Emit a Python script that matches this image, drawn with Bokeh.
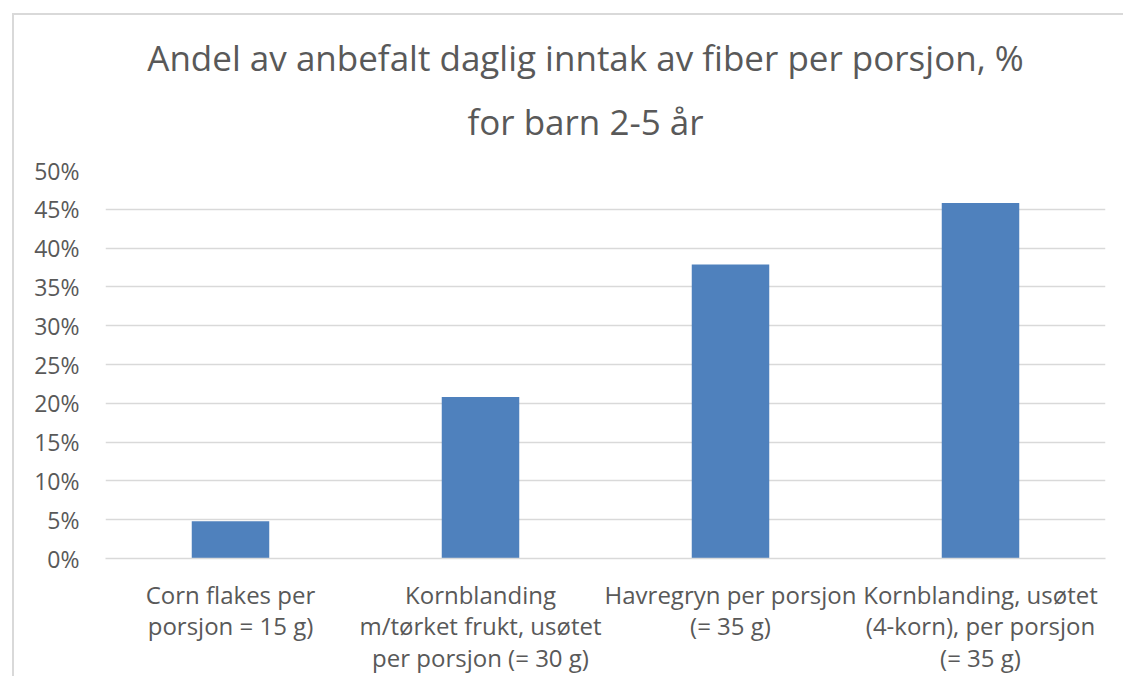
from bokeh.plotting import figure
from bokeh.models import FactorRange, Range1d, FixedTicker, PrintfTickFormatter, Title, InlineStyleSheet
from bokeh.embed import file_html
from bokeh.resources import INLINE

# ---- data ----
categories = [
    "Corn flakes per\nporsjon = 15 g)",
    "Kornblanding\nm/tørket frukt, usøtet\nper porsjon (= 30 g)",
    "Havregryn per porsjon\n(= 35 g)",
    "Kornblanding, usøtet\n(4-korn), per porsjon\n(= 35 g)",
]
values = [4.8, 20.8, 37.9, 45.8]
y_ticks = [0, 5, 10, 15, 20, 25, 30, 35, 40, 45, 50]
title_lines = ["Andel av anbefalt daglig inntak av fiber per porsjon, %", "for barn 2-5 år"]

FONT = "Open Sans"
TXT = "#595959"
GRID = "#d9d9d9"
BAR = "#4f81bd"
W, H = 1123, 676
FL, FR, FT, FB = 105, 18, 170, 118  # frame borders

p = figure(
    width=W, height=H, title=None,
    x_range=FactorRange(*categories, range_padding=0),
    y_range=Range1d(0, 50),
    output_backend="svg", toolbar_location=None,
    min_border_left=FL, min_border_right=FR,
    min_border_top=FT, min_border_bottom=FB,
)

p.vbar(x=categories, top=values, width=0.31, color=BAR, line_color=None)

# title: two lines, each centered (nearest to the frame is added first)
for i, t in enumerate(reversed(title_lines)):
    p.add_layout(Title(
        text=t, align="center",
        text_font=FONT, text_font_size="35px", text_font_style="normal",
        text_color=TXT, padding=(0, 40, 0, 0),
        standoff=51 if i == 0 else -21,
    ), "above")

# chart border (top and left edges)
p.stylesheets = [InlineStyleSheet(css="""
:host { position: relative; }
:host::after {
  content: ""; position: absolute; left: 12px; top: 13px; right: 0; bottom: 0;
  border-left: 2px solid #d9d9d9; border-top: 2px solid #d9d9d9;
  pointer-events: none; z-index: 10;
}
""")]

# frame / grid
p.outline_line_color = None
p.background_fill_color = "white"
p.border_fill_color = "white"
p.xgrid.grid_line_color = None
p.ygrid.grid_line_color = GRID
p.ygrid.grid_line_width = 1.5

# y axis
p.yaxis.ticker = FixedTicker(ticks=y_ticks)
p.yaxis.formatter = PrintfTickFormatter(format="%d%%")
p.yaxis.axis_line_color = None
p.yaxis.major_tick_line_color = None
p.yaxis.minor_tick_line_color = None
p.yaxis.major_tick_out = 0
p.yaxis.major_label_standoff = 26
p.yaxis.major_label_text_font = FONT
p.yaxis.major_label_text_font_size = "23px"
p.yaxis.major_label_text_color = TXT

# x axis
p.xaxis.axis_line_color = GRID
p.xaxis.axis_line_width = 1.5
p.xaxis.major_tick_line_color = None
p.xaxis.major_tick_out = 0
p.xaxis.major_label_standoff = 19
p.xaxis.major_label_text_font = FONT
p.xaxis.major_label_text_font_size = "24px"
p.xaxis.major_label_text_color = TXT
p.xaxis.major_label_text_line_height = 0.96
p.xaxis.major_label_orientation = "horizontal"

open("out.html", "w").write(file_html(p, INLINE))
